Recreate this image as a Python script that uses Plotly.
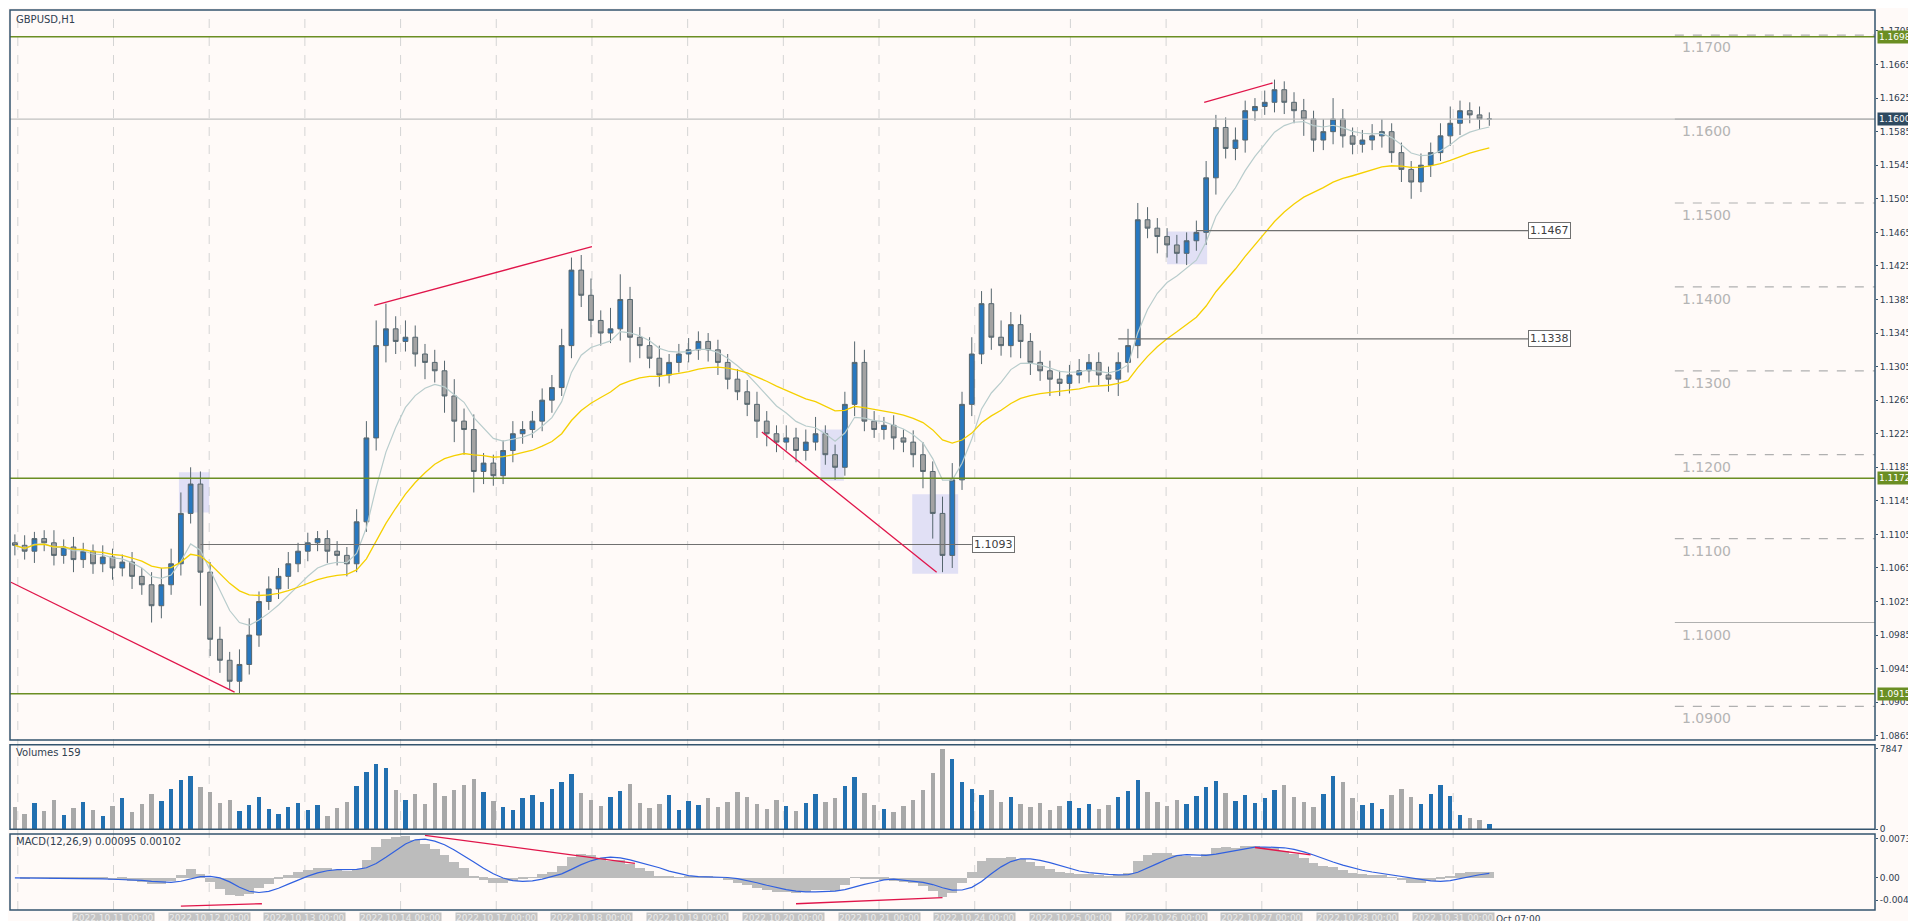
import pandas as pd
import plotly.graph_objects as go

# GBPUSD H1 (sampled), prices in pips relative to 1.1000
closes = [92, 85, 100, 95, 80, 90, 75, 85, 70, 78, 65, 72, 55, 45, 20, 45, 70, 130, 165, 60,
          -20, -45, -70, -50, -15, 25, 40, 55, 70, 85, 95, 100, 85, 80, 70, 120, 220, 330, 350, 335,
          340, 320, 310, 300, 270, 240, 230, 180, 190, 175, 205, 225, 230, 240, 265, 280, 330, 420, 390, 360,
          345, 350, 385, 340, 330, 315, 295, 310, 320, 325, 335, 325, 310, 290, 275, 260, 240, 225, 215, 220,
          205, 215, 225, 200, 185, 260, 310, 240, 230, 235, 220, 215, 200, 180, 130, 80, 170, 260, 320, 380,
          340, 330, 355, 335, 310, 300, 290, 285, 295, 300, 310, 295, 290, 310, 330, 480, 470, 460, 450, 440,
          455, 465, 530, 590, 565, 575, 610, 615, 620, 635, 620, 610, 600, 575, 585, 600, 580, 570, 575, 580,
          585, 560, 540, 525, 545, 560, 580, 595, 610, 605, 600, 600]
wick_up = [10, 12, 8, 10, 15, 9, 12, 10, 8, 14, 10, 9, 12, 10, 15, 20, 18, 25, 20, 15,
           12, 15, 10, 18, 20, 12, 15, 10, 14, 10, 12, 9, 10, 12, 10, 15, 20, 30, 30, 15,
           20, 14, 12, 15, 12, 20, 15, 18, 12, 10, 12, 15, 10, 12, 14, 15, 20, 15, 18, 20,
           12, 25, 30, 15, 12, 10, 15, 10, 12, 14, 12, 10, 12, 10, 12, 14, 15, 12, 10, 15,
           12, 15, 20, 10, 12, 15, 25, 15, 12, 10, 12, 10, 14, 15, 12, 20, 20, 15, 20, 15,
           18, 20, 15, 12, 10, 14, 12, 10, 12, 14, 10, 12, 10, 12, 20, 20, 15, 12, 10, 12,
           10, 14, 20, 15, 12, 15, 12, 10, 14, 12, 10, 12, 14, 10, 15, 25, 12, 10, 12, 14,
           15, 10, 12, 10, 14, 12, 15, 20, 12, 10, 10, 8]
wick_dn = [12, 10, 14, 10, 12, 10, 15, 10, 12, 10, 14, 10, 15, 12, 20, 15, 12, 14, 12, 40,
           20, 15, 10, 15, 12, 14, 10, 12, 15, 10, 12, 10, 14, 12, 15, 10, 12, 15, 20, 15,
           12, 15, 20, 14, 20, 25, 30, 25, 15, 12, 10, 14, 12, 10, 12, 15, 10, 15, 14, 20,
           15, 12, 14, 30, 15, 12, 14, 10, 12, 10, 12, 14, 15, 12, 10, 14, 20, 15, 12, 10,
           14, 12, 10, 12, 15, 10, 14, 12, 10, 12, 14, 12, 15, 20, 30, 20, 15, 12, 14, 12,
           15, 12, 14, 20, 15, 12, 20, 15, 12, 10, 14, 12, 15, 20, 12, 15, 12, 20, 15, 12,
           14, 12, 15, 20, 12, 14, 15, 12, 10, 12, 14, 15, 20, 14, 12, 15, 14, 12, 10, 12,
           14, 12, 15, 20, 12, 14, 10, 12, 14, 10, 12, 8]
volumes = [2200, 1500, 2600, 1800, 2900, 1400, 2100, 2700, 1900, 1300, 2300, 3000, 1700, 2500, 3400, 2800, 3900, 4800, 5200, 4100,
           3600, 2600, 2900, 1800, 2400, 3100, 2000, 1500, 2200, 2600, 1900, 2400, 1300, 2100, 2700, 4200, 5600, 6400, 6000, 3800,
           2900, 3400, 2500, 4500, 3200, 3800, 4300, 4900, 3600, 2800, 2200, 1900, 3000, 3300, 2700, 3900, 4600, 5400, 3500, 2900,
           2300, 3100, 3700, 4400, 2600, 2100, 2500, 3300, 1900, 2800, 2400, 3000, 2200, 2700, 3600, 3100, 2500, 2000, 2900, 2300,
           1800, 2600, 3400, 2700, 3000, 4200, 5100, 3500, 2400, 2000, 1700, 2300, 2900, 3800, 5500, 7847, 6800, 4600, 3900, 3300,
           3800, 2700, 3100, 2500, 2200, 2600, 1900, 2300, 2800, 2100, 2500, 2000, 2400, 3100, 3700, 4800, 3600, 2700, 2300, 2900,
           2500, 3200, 4100, 4700, 3500, 2800, 3300, 2600, 3000, 3800, 4300, 3100, 2700, 2200, 3400, 5200, 4600, 3000, 2400, 2600,
           2000, 3300, 3900, 3100, 2500, 3400, 4300, 3200, 1400, 1100, 900, 500]
day_labels = ["2022.10.10 00:00", "2022.10.11 00:00", "2022.10.12 00:00", "2022.10.13 00:00", "2022.10.14 00:00",
              "2022.10.17 00:00", "2022.10.18 00:00", "2022.10.19 00:00", "2022.10.20 00:00", "2022.10.21 00:00",
              "2022.10.24 00:00", "2022.10.25 00:00", "2022.10.26 00:00", "2022.10.27 00:00", "2022.10.28 00:00",
              "2022.10.31 00:00"]
levels = [1.1698, 1.1172, 1.0915]
current_price = 1.1600
round_levels = [1.1700, 1.1600, 1.1500, 1.1400, 1.1300, 1.1200, 1.1100, 1.1000, 1.0900]
segments = [(1.1467, 121, 155), (1.1338, 113, 155), (1.1093, 19, 98)]
macd_ticks = [-0.00415, 0.0, 0.00733]

BG = "#fffaf8"
FRAME = "#34546e"
OLIVE = "#6b8e23"
RED = "#e0154a"

df = pd.DataFrame({"c": closes, "hu": wick_up, "ld": wick_dn, "v": volumes})
df["close"] = 1.1 + df["c"] / 10000
df["open"] = df["close"].shift(1).fillna(1.1095)
df["high"] = df[["open", "close"]].max(axis=1) + df["hu"] / 10000
df["low"] = df[["open", "close"]].min(axis=1) - df["ld"] / 10000
df["x"] = range(len(df))
df["ma_fast"] = df["close"].ewm(span=8).mean()
df["ma_slow"] = df["close"].ewm(span=24).mean()
ema12 = df["close"].ewm(span=6).mean()
ema26 = df["close"].ewm(span=13).mean()
df["macd"] = ema12 - ema26
df["signal"] = df["macd"].rolling(5, min_periods=1).mean()
up = df["close"] >= df["open"]

fig = go.Figure()
fig.add_trace(go.Scatter(x=df["x"], y=df["ma_fast"], mode="lines", line=dict(color="#b8cccc", width=1.2),
                         hoverinfo="skip", yaxis="y"))
fig.add_trace(go.Scatter(x=df["x"], y=df["ma_slow"], mode="lines", line=dict(color="#f5d000", width=1.3),
                         hoverinfo="skip", yaxis="y"))
fig.add_trace(go.Candlestick(x=df["x"], open=df["open"], high=df["high"], low=df["low"], close=df["close"],
                             increasing=dict(fillcolor="#2878c0", line=dict(color="#56666e", width=1)),
                             decreasing=dict(fillcolor="#a3a3a3", line=dict(color="#56666e", width=1)),
                             whiskerwidth=0, yaxis="y"))
fig.add_trace(go.Bar(x=df["x"], y=df["v"], marker_color=["#2270b0" if u else "#a8a8a8" for u in up],
                     marker_line_width=0, width=0.45, xaxis="x", yaxis="y2"))
fig.add_trace(go.Bar(x=df["x"], y=df["macd"], marker_color="#bcbcbc", marker_line_width=0, width=1.0,
                     xaxis="x", yaxis="y3"))
fig.add_trace(go.Scatter(x=df["x"], y=df["signal"], mode="lines", line=dict(color="#3060e0", width=1.2),
                         xaxis="x", yaxis="y3"))

K = 1.222
def py(yd):
    # display-pixel y to paper fraction
    return (902 - yd * K) / 900

day_pos = [0.3 + 9.8 * i for i in range(len(day_labels))]

shapes = []
annotations = []
lab_font = dict(color="white", size=9, family="DejaVu Sans")
for lv in levels:
    shapes.append(dict(type="line", xref="paper", x0=0, x1=1, yref="y", y0=lv, y1=lv, line=dict(color=OLIVE, width=1.5)))
    annotations.append(dict(xref="paper", x=1.001, yref="y", y=lv, text=f"{lv:.4f}", showarrow=False, xanchor="left",
                            font=lab_font, bgcolor=OLIVE, borderpad=1))
shapes.append(dict(type="line", xref="paper", x0=0, x1=1, yref="y", y0=current_price, y1=current_price,
                   line=dict(color="#c0c0c0", width=1.2)))
annotations.append(dict(xref="paper", x=1.001, yref="y", y=current_price, text=f"{current_price:.4f}", showarrow=False,
                        xanchor="left", font=lab_font, bgcolor="#2f4a60", borderpad=1))
for lv in round_levels:
    shapes.append(dict(type="line", xref="x", x0=170, x1=200, yref="y", y0=lv, y1=lv,
                       line=dict(color="#b0b0b0", width=1.2, dash="dash" if lv not in (1.1, 1.16) else "solid")))
    annotations.append(dict(xref="x", x=170.5, yref="y", y=lv, text=f"{lv:.4f}", showarrow=False, xanchor="left",
                            yanchor="top", yshift=-2, font=dict(color="#b4b4b4", size=14, family="DejaVu Sans")))
for lv, a, b in segments:
    shapes.append(dict(type="line", xref="x", x0=a, x1=b, yref="y", y0=lv, y1=lv, line=dict(color="#707070", width=1.2)))
    annotations.append(dict(xref="x", x=b, yref="y", y=lv, text=f"{lv:.4f}", showarrow=False, xanchor="left",
                            font=dict(color="#404040", size=11, family="DejaVu Sans"), bgcolor="white",
                            bordercolor="#707070", borderwidth=1, borderpad=1))
for x0, y0, x1, y1 in [(-0.4, 1.1048, 22.5, 1.0917), (36.8, 1.1378, 59.1, 1.1448),
                       (76.5, 1.1227, 94.4, 1.1060), (121.8, 1.1620, 128.8, 1.1643)]:
    shapes.append(dict(type="line", xref="x", yref="y", x0=x0, y0=y0, x1=x1, y1=y1, line=dict(color=RED, width=1.3)))
for x0, y0, x1, y1 in [(16.8, 1.1131, 19.9, 1.1179), (91.9, 1.1058, 96.6, 1.1153),
                       (82.5, 1.1169, 84.9, 1.1230), (118, 1.1427, 122.1, 1.1466)]:
    shapes.append(dict(type="rect", xref="x", yref="y", x0=x0, y0=y0, x1=x1, y1=y1, fillcolor="rgba(180,185,240,0.4)",
                       line=dict(width=0), layer="below"))
for x0, y0, x1, y1 in [(42, 677, 63.5, 700), (17, 735, 25.3, 733), (80, 733, 95, 728), (127, 687, 132.7, 693)]:
    shapes.append(dict(type="line", xref="x", yref="paper", x0=x0, x1=x1, y0=py(y0), y1=py(y1), line=dict(color=RED, width=1.3)))
for p in day_pos:
    shapes.append(dict(type="line", xref="x", x0=p, x1=p, yref="paper", y0=0, y1=1, layer="below",
                       line=dict(color="#d4d4d4", width=1, dash="dash")))
# pane frames
for y0, y1 in [(py(599), 1), (py(672), py(603)), (0, py(676))]:
    shapes.append(dict(type="rect", xref="paper", yref="paper", x0=0, x1=1, y0=y0, y1=y1, line=dict(color=FRAME, width=1.5)))
for p, lab in zip(day_pos[1:], day_labels[1:]):
    annotations.append(dict(xref="x", x=p, yref="paper", y=0, yshift=-2, yanchor="top", text=lab, showarrow=False,
                            font=dict(size=9, color="#ececec", family="DejaVu Sans"), bgcolor="#c4c4c4", borderpad=0))
annotations.append(dict(xref="x", x=df["x"].iloc[-1] + 0.5, yref="paper", y=0, yshift=-2, yanchor="top", xanchor="left",
                        text="Oct 07:00", showarrow=False, font=dict(size=9, color="#304050", family="DejaVu Sans")))
for txt, y in [("GBPUSD,H1", 0.998), ("Volumes 159", py(603)), ("MACD(12,26,9) 0.00095 0.00102", py(676))]:
    annotations.append(dict(xref="paper", x=0.002, yref="paper", y=y, yanchor="top", xanchor="left", text=txt,
                            showarrow=False, font=dict(size=10, color="#304050", family="DejaVu Sans")))

tick_font = dict(size=9, color="#304050", family="DejaVu Sans")
fig.update_layout(
    width=1916, height=921, margin=dict(l=2, r=49, t=2, b=19),
    paper_bgcolor=BG, plot_bgcolor=BG, showlegend=False, bargap=0,
    xaxis=dict(range=[-0.5, 190.5], showgrid=False, zeroline=False, showticklabels=False, rangeslider=dict(visible=False),
               anchor="y3"),
    yaxis=dict(domain=[py(599), 1], range=[1.0860, 1.1730], side="right", showgrid=False, zeroline=False,
               tickvals=[1.0865 + 0.004 * i for i in range(22)], tickformat=".4f", ticks="outside", ticklen=2,
               tickcolor=FRAME, tickfont=tick_font),
    yaxis2=dict(domain=[py(672), py(603)], range=[0, 8200], side="right", showgrid=False, zeroline=False,
                tickvals=[0, 7847], ticks="outside", ticklen=2, tickcolor=FRAME, tickfont=tick_font),
    yaxis3=dict(domain=[0, py(676)], range=[-0.0060, 0.0082], side="right", showgrid=False, zeroline=False,
                tickvals=macd_ticks, ticktext=["-0.00415", "0.00", "0.00733"],
                ticks="outside", ticklen=2, tickcolor=FRAME, tickfont=tick_font),
    shapes=shapes, annotations=annotations,
)
fig.write_html("out.html")
